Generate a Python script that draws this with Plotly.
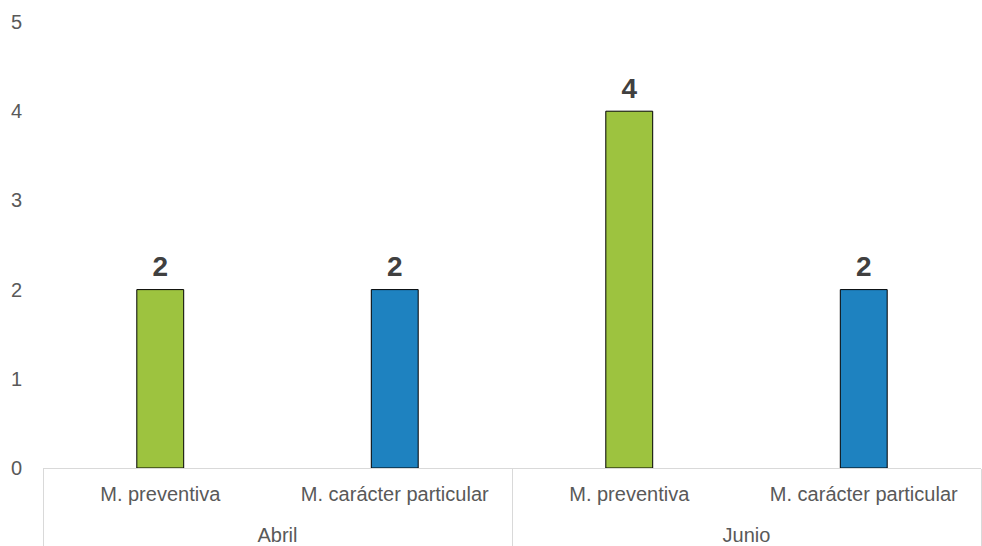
import plotly.graph_objects as go

months = ["Abril", "Abril", "Junio", "Junio"]
categories = ["M. preventiva", "M. carácter particular", "M. preventiva", "M. carácter particular"]
values = [2, 2, 4, 2]
y_ticks = [0, 1, 2, 3, 4, 5]

color_map = {"M. preventiva": "#9DC33F", "M. carácter particular": "#1E82C0"}
colors = [color_map[c] for c in categories]
# a tall invisible spacer on each side pushes the month row lower, as in the reference
spacer = "<span style='font-size:42px'>\u00a0</span>"
cat_labels = [spacer + c + spacer for c in categories]

fig = go.Figure()
fig.add_trace(go.Bar(
    x=[months, cat_labels],
    y=values,
    marker=dict(color=colors, line=dict(color="#000000", width=1)),
    width=0.2,
    hoverinfo="y",
))
fig.add_trace(go.Scatter(
    x=[months, cat_labels],
    y=values,
    mode="markers+text",
    marker=dict(size=9, opacity=0),
    text=[str(v) for v in values],
    texttemplate="<b>%{text}</b>",
    textposition="top center",
    textfont=dict(family="Liberation Sans, Arial", size=28, color="#404040"),
    cliponaxis=False,
    hoverinfo="skip",
))

fig.update_layout(
    width=982, height=546,
    margin=dict(l=43, r=1, t=22, b=78, autoexpand=False),
    plot_bgcolor="white", paper_bgcolor="white",
    showlegend=False,
    font=dict(family="Liberation Sans, Arial", size=20, color="#595959"),
    xaxis=dict(
        type="multicategory", automargin=False,
        showline=True, linecolor="#D9D9D9", linewidth=1,
        showdividers=True, dividercolor="#D9D9D9", dividerwidth=1,
        ticklabelstandoff=8,
        tickfont=dict(size=20, color="#595959"),
        showgrid=False,
    ),
    yaxis=dict(
        range=[0, 5], tickvals=y_ticks, showgrid=False, zeroline=False,
        showline=False, tickfont=dict(size=20, color="#595959"),
        ticklabelstandoff=20, automargin=False,
    ),
    bargap=0.8,
)

fig.write_html("out.html", config={"displayModeBar": False},
               post_script="document.body.style.margin='0';document.body.style.padding='0';")
